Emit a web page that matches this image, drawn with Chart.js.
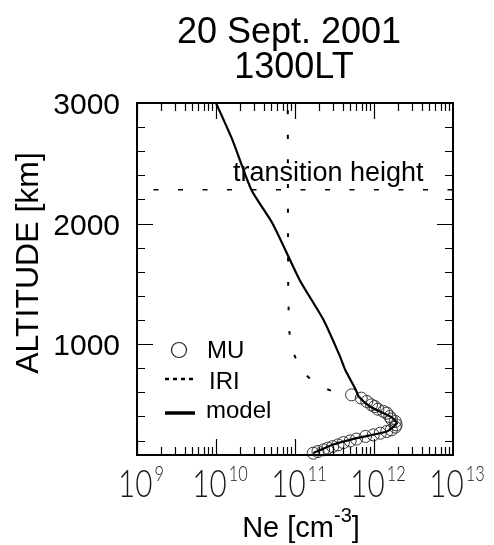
<!DOCTYPE html>
<html>
<head>
<meta charset="utf-8">
<script src="https://cdn.jsdelivr.net/npm/chart.js@4/dist/chart.umd.min.js"></script>
<style>
html,body{margin:0;padding:0;background:#fff;}
canvas{display:block;}
</style>
</head>
<body>
<canvas id="chartNe" width="494" height="545"></canvas>
<script>
// titles / ticks
const titleLines = ["20 Sept. 2001", "1300LT"];
const altTicks = [1000, 2000, 3000];
const neTickExp = [9, 10, 11, 12, 13];
const transitionAlt = 2280;

// model profile (solid line)
const modelAlt = [3000, 2700, 2280, 2000, 1530, 1200, 900, 790, 620, 565, 480, 400, 345, 275, 220, 165, 95];
const modelNe  = [1.0e10, 1.6e10, 2.8e10, 5.2e10, 1.15e11, 2.3e11, 3.7e11, 4.3e11, 5.9e11, 6.4e11, 9.0e11, 1.6e12, 1.95e12, 1.45e12, 6.0e11, 3.0e11, 1.7e11];

// MU radar points (circles)
const muAlt = [579, 552, 524, 496, 482, 460, 441, 427, 399, 378, 358, 330, 311, 289, 275, 261, 247, 234, 212, 197, 183, 164, 150, 137, 123, 109, 95];
const muNe  = [5.2e11, 6.9e11, 8.1e11, 9.3e11, 1.02e12, 1.12e12, 1.32e12, 1.45e12, 1.58e12, 1.66e12, 1.86e12, 1.91e12, 1.86e12, 1.66e12, 1.45e12, 1.2e12, 9.8e11, 7.8e11, 6.0e11, 5.0e11, 4.1e11, 3.5e11, 3.0e11, 2.6e11, 2.3e11, 1.95e11, 1.7e11];

// IRI profile (dotted)
const iriAlt = [3000, 1500, 1300, 1100, 910, 740, 630, 580];
const iriNe  = [8.1e10, 8.2e10, 8.3e10, 8.5e10, 9.8e10, 1.4e11, 2.5e11, 4.0e11];

const toPts = (xs, ys) => xs.map((v, i) => ({x: v, y: ys[i]}));

const frame = {
    id: "frame",
    afterDatasetsDraw(chart){
        const {ctx, chartArea: a, scales: {x, y}} = chart;
        ctx.save();
        ctx.strokeStyle = "#000";
        ctx.fillStyle = "#000";

        // border
        ctx.lineWidth = 2;
        ctx.strokeRect(a.left, a.top, a.right - a.left, a.bottom - a.top);

        // inside ticks
        ctx.lineWidth = 1.2;
        ctx.beginPath();
        for(let e = 9; e < 13; e++){
            for(let m = 1; m < 10; m++){
                const px = Math.round(x.getPixelForValue(m * Math.pow(10, e))) + 0.5;
                const len = m === 1 ? 16 : 8;
                ctx.moveTo(px, a.bottom); ctx.lineTo(px, a.bottom - len);
                ctx.moveTo(px, a.top); ctx.lineTo(px, a.top + len);
            }
        }
        for(let v = 200; v < 3000; v += 200){
            const py = Math.round(y.getPixelForValue(v)) + 0.5;
            const len = v % 1000 === 0 ? 16 : 8;
            ctx.moveTo(a.left, py); ctx.lineTo(a.left + len, py);
            ctx.moveTo(a.right, py); ctx.lineTo(a.right - len, py);
        }
        ctx.stroke();

        // title
        ctx.textAlign = "center";
        ctx.textBaseline = "alphabetic";
        ctx.font = "36px 'Liberation Sans', Arial, sans-serif";
        ctx.fillText(titleLines[0], 289, 43);
        ctx.fillText(titleLines[1], 294, 78);

        // y tick labels
        ctx.textAlign = "right";
        ctx.font = "30px 'Liberation Sans', Arial, sans-serif";
        altTicks.forEach(v => {
            ctx.fillText(String(v), 120, y.getPixelForValue(v) + 11);
        });

        // y title
        ctx.save();
        ctx.translate(38, 263);
        ctx.rotate(-Math.PI / 2);
        ctx.textAlign = "center";
        ctx.font = "32px 'Liberation Sans', Arial, sans-serif";
        ctx.fillText("ALTITUDE [km]", 0, 0);
        ctx.restore();

        // x tick labels 10^n (thin, narrow)
        const sx = 0.78;
        ctx.textAlign = "left";
        ctx.fillStyle = "#1a1a1a";
        neTickExp.forEach(e => {
            const px = x.getPixelForValue(Math.pow(10, e));
            ctx.font = "300 38px Lato, 'DejaVu Sans', sans-serif";
            const wMain = ctx.measureText("10").width * sx;
            ctx.font = "300 21px Lato, 'DejaVu Sans', sans-serif";
            const wSup = ctx.measureText(String(e)).width * sx;
            const start = px + 4 - (wMain + 2 + wSup) / 2;
            ctx.save();
            ctx.translate(start, 497);
            ctx.scale(sx, 1);
            ctx.font = "300 38px Lato, 'DejaVu Sans', sans-serif";
            ctx.fillText("10", 0, 0);
            ctx.restore();
            ctx.save();
            ctx.translate(start + wMain + 2, 481);
            ctx.scale(sx, 1);
            ctx.font = "300 21px Lato, 'DejaVu Sans', sans-serif";
            ctx.fillText(String(e), 0, 0);
            ctx.restore();
        });

        // x title  Ne [cm^-3]
        ctx.fillStyle = "#000";
        const f1 = "29px 'Liberation Sans', Arial, sans-serif";
        const f2 = "20px 'Liberation Sans', Arial, sans-serif";
        ctx.font = f1;
        const wA = ctx.measureText("Ne [cm").width;
        const wC = ctx.measureText("]").width;
        ctx.font = f2;
        const wB = ctx.measureText("-3").width;
        let tx = 301 - (wA + wB + wC) / 2;
        ctx.font = f1;
        ctx.fillText("Ne [cm", tx, 537);
        ctx.font = f2;
        ctx.fillText("-3", tx + wA, 522);
        ctx.font = f1;
        ctx.fillText("]", tx + wA + wB, 537);

        // transition height label
        ctx.font = "27px 'Liberation Sans', Arial, sans-serif";
        ctx.fillText("transition height", 233, 181);

        // legend
        ctx.font = "24px 'Liberation Sans', Arial, sans-serif";
        ctx.strokeStyle = "#222";
        ctx.lineWidth = 1.2;
        ctx.beginPath();
        ctx.arc(179, 350, 7.5, 0, Math.PI * 2);
        ctx.stroke();
        ctx.fillText("MU", 207, 358);

        ctx.strokeStyle = "#000";
        ctx.lineWidth = 2.5;
        ctx.setLineDash([4, 4]);
        ctx.beginPath();
        ctx.moveTo(165, 379); ctx.lineTo(193, 379);
        ctx.stroke();
        ctx.setLineDash([]);
        ctx.fillText("IRI", 209, 389);

        ctx.lineWidth = 3.5;
        ctx.beginPath();
        ctx.moveTo(165, 413); ctx.lineTo(195, 413);
        ctx.stroke();
        ctx.fillText("model", 206, 418);

        ctx.restore();
    }
};

new Chart(document.getElementById("chartNe"), {
    type: "scatter",
    data: {
        datasets: [
            {
                label: "model",
                data: toPts(modelNe, modelAlt),
                showLine: true,
                borderColor: "#000",
                borderWidth: 2.2,
                pointRadius: 0,
                tension: 0.2,
                order: 0
            },
            {
                label: "MU",
                data: toPts(muNe, muAlt),
                showLine: false,
                pointStyle: "circle",
                pointRadius: 6,
                borderColor: "#333",
                borderWidth: 1,
                backgroundColor: "rgba(0,0,0,0)",
                clip: false,
                order: 1
            },
            {
                label: "IRI",
                data: toPts(iriNe, iriAlt),
                showLine: true,
                borderColor: "#000",
                borderWidth: 2,
                borderDash: [4, 20.5],
                borderDashOffset: 17,
                pointRadius: 0,
                tension: 0.3,
                order: 2
            },
            {
                label: "transition height",
                data: [{x: 1e9, y: transitionAlt}, {x: 1e13, y: transitionAlt}],
                showLine: true,
                borderColor: "#000",
                borderWidth: 1.5,
                borderDash: [5, 19.5],
                borderDashOffset: 8,
                pointRadius: 0,
                order: 3
            }
        ]
    },
    options: {
        responsive: false,
        animation: false,
        devicePixelRatio: 1,
        layout: {padding: {left: 137, right: 41, top: 103, bottom: 90}},
        scales: {
            x: {type: "logarithmic", min: 1e9, max: 1e13, display: false},
            y: {type: "linear", min: 80, max: 3000, display: false}
        },
        plugins: {
            legend: {display: false},
            tooltip: {enabled: false}
        }
    },
    plugins: [frame]
});
</script>
</body>
</html>
